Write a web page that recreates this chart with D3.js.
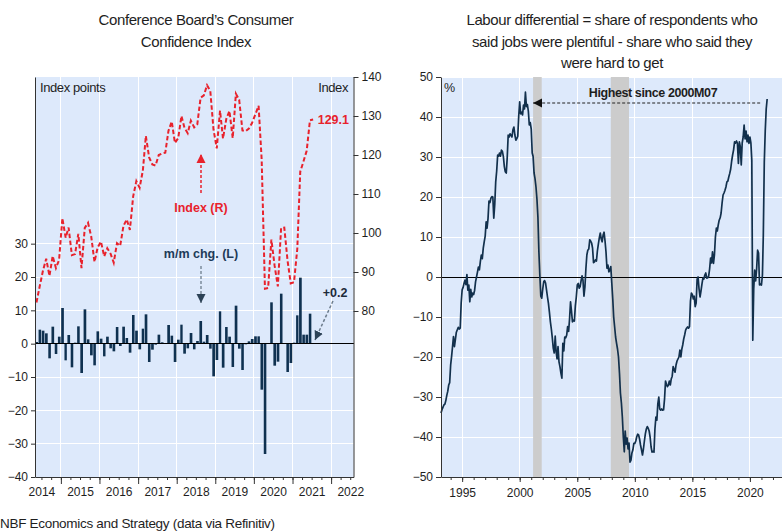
<!DOCTYPE html>
<html>
<head>
<meta charset="utf-8">
<script src="https://cdn.jsdelivr.net/npm/d3@7"></script>
<style>
  body { margin: 0; background: #fff; }
  svg text { font-family: "Liberation Sans", Arial, sans-serif; fill: #1e1e1e; }
  .axis path, .axis line { stroke: #333; }
  .axis text { font-size: 12px; }
  .crisp { shape-rendering: crispEdges; }
</style>
</head>
<body>
<div id="chart"></div>
<script>
// ---- left panel: Conference Board consumer confidence, monthly from 2014M05
var ccStart = [2014, 4];
var ccIndex = [
  82.2, 86.4, 90.3, 93.4, 89.0, 94.1, 91.0, 93.1,                          // 2014 May-Dec
  103.8, 98.8, 101.4, 94.3, 94.6, 99.8, 91.0, 101.3, 102.6, 99.1, 92.6, 96.3,  // 2015
  97.8, 94.0, 96.1, 94.7, 92.4, 97.4, 96.7, 101.8, 103.5, 100.8, 109.4, 113.3, // 2016
  111.6, 116.1, 124.9, 119.4, 117.6, 117.3, 120.0, 120.4, 120.6, 126.2, 128.6, 123.1, // 2017
  124.3, 130.0, 127.0, 125.6, 128.8, 127.1, 127.9, 134.7, 135.3, 137.9, 136.4, 126.6, // 2018
  121.7, 131.4, 124.2, 129.2, 131.3, 124.3, 135.7, 134.2, 126.3, 126.1, 126.8, 128.2, // 2019
  130.4, 132.6, 118.8, 85.7, 85.9, 98.3, 91.7, 86.3, 101.3, 101.4, 92.9, 87.1,  // 2020
  87.4, 95.9, 115.7, 118.4, 121.1, 128.9, 129.1                                // 2021 Jan-Jul
];
var ccChange = [
  0.5, 4.2, 3.9, 3.1, -4.4, 5.1, -3.1, 2.1,
  10.7, -5.0, 2.6, -7.1, 0.3, 5.2, -8.8, 10.3, 1.3, -3.5, -6.5, 3.7,
  1.5, -3.8, 2.1, -1.4, -2.3, 5.0, -0.7, 5.1, 1.7, -2.7, 8.6, 3.9,
  -1.7, 4.5, 8.8, -5.5, -1.8, -0.3, 2.7, 0.4, 0.2, 5.6, 2.4, -5.5,
  1.2, 5.7, -3.0, -1.4, 3.2, -1.7, 0.8, 6.8, 0.6, 2.6, -1.5, -9.8,
  -4.9, 9.7, -7.2, 5.0, 2.1, -7.0, 11.4, -1.5, -7.9, -0.2, 0.7, 1.4,
  2.2, 2.2, -13.8, -33.1, 0.2, 12.4, -6.6, -5.4, 15.0, 0.1, -8.5, -5.8,
  0.3, 8.5, 19.8, 2.7, 2.7, 9.0, 0.2
];
var ccLeftTicks = [-40, -30, -20, -10, 0, 10, 20, 30];
var ccRightTicks = [80, 90, 100, 110, 120, 130, 140];
var ccYears = [2014, 2015, 2016, 2017, 2018, 2019, 2020, 2021, 2022];

// ---- right panel: labour differential (%), monthly from 1993M03
var ldStart = [1993, 2];
var ldValues = [
  -34.0, -33.2, -32.6, -32.0, -31.8, -30.9, -29.6, -28.6, -27.0, -26.4,          // 1993 Mar-Dec
  -22.0, -19.8, -17.5, -14.9, -17.4, -15.6, -13.8, -13.2, -12.6, -13.0, -12.8, -6.5, // 1994
  -3.2, -2.6, -1.6, -0.8, -1.9, 0.6, -3.3, -2.0, -6.2, -3.1, -5.0, -4.0,         // 1995
  -4.4, -3.3, -1.2, 0.0, 1.2, 2.5, 1.8, 3.9, 5.5, 4.6, 7.2, 8.8,                 // 1996
  10.2, 13.8, 12.2, 14.6, 19.0, 18.6, 19.7, 20.1, 20.0, 14.7, 18.2, 23.8,        // 1997
  26.5, 30.5, 30.2, 31.0, 30.2, 31.7, 31.4, 30.1, 27.6, 26.3, 26.0, 29.8,        // 1998
  35.5, 35.0, 35.8, 35.4, 35.0, 36.8, 37.5, 35.5, 34.2, 34.6, 35.2, 40.2,        // 1999
  43.8, 40.8, 41.2, 40.5, 43.0, 42.0, 46.2, 42.6, 43.1, 41.5, 38.0, 38.6,        // 2000
  37.0, 31.0, 30.2, 26.0, 24.6, 22.5, 19.5, 15.0, 6.3, 0.5, -4.8, -5.3,          // 2001
  -3.0, -1.2, -0.9, -1.5, -3.2, -5.0, -6.6, -8.8, -11.2, -13.0, -15.2, -17.8,    // 2002
  -19.0, -14.8, -18.6, -20.5, -17.4, -21.2, -22.4, -24.0, -25.3, -16.6, -18.5, -15.0, // 2003
  -15.2, -14.5, -12.4, -13.6, -10.5, -6.2, -8.5, -11.2, -10.8, -11.0, -7.2, -5.0, // 2004
  -2.0, -1.6, -2.8, -2.4, -1.0, 0.3, -0.8, -4.8, -2.5, 2.0, 5.5, 6.7,            // 2005
  7.0, 9.3, 9.0, 8.5, 7.2, 3.6, 3.8, 4.3, 4.0, 6.5, 8.2, 9.8,                    // 2006
  11.0, 9.5, 8.8, 10.5, 11.2, 9.0, 6.3, 2.2, 3.0, 1.3, 1.8, 2.6,                 // 2007
  -1.5, -5.5, -10.0, -12.5, -15.0, -16.6, -18.0, -20.0, -24.0, -29.0, -31.5, -35.0, // 2008
  -40.0, -43.7, -38.5, -41.8, -40.3, -43.0, -41.5, -46.3, -45.8, -44.0, -43.2, -41.6, // 2009
  -41.6, -41.0, -40.0, -39.3, -39.5, -40.5, -42.0, -43.2, -44.5, -43.0, -41.0, -39.2, // 2010
  -38.0, -37.4, -37.8, -38.5, -40.0, -42.5, -43.8, -43.6, -43.8, -38.0, -35.0, -35.8, // 2011
  -31.7, -30.0, -33.0, -33.3, -33.0, -33.3, -33.2, -30.5, -26.0, -26.8, -27.4, -27.0, // 2012
  -26.0, -27.0, -25.5, -24.8, -22.4, -23.2, -23.8, -22.0, -21.0, -20.5, -20.0, -18.3, // 2013
  -20.0, -18.0, -17.0, -15.5, -14.5, -13.3, -12.8, -12.5, -12.8, -12.4, -6.0, -4.0,   // 2014
  -4.4, -5.5, -4.8, -7.4, -6.5, -0.5, 0.0, -3.0, -5.0, -3.5, -1.8, -0.3,        // 2015
  -0.5, 0.5, 1.0, -0.3, -0.2, 0.2, 2.0, 4.7, 3.5, 6.3, 3.4, 5.5,                // 2016
  10.0, 12.2, 11.5, 13.0, 14.2, 14.8, 16.0, 18.5, 20.5, 21.0, 21.7, 22.5,       // 2017
  23.8, 24.0, 25.0, 25.9, 27.0, 29.0, 30.5, 31.8, 33.8, 33.5, 34.0, 33.4,       // 2018
  28.4, 33.8, 32.6, 28.0, 33.5, 35.0, 38.0, 34.5, 36.5, 33.8, 35.5, 33.4,       // 2019
  35.0, 33.5, 29.2, -15.8, -3.0, 1.7, -1.0, 2.0, 6.7, 6.0, -2.0, -1.8,          // 2020
  -2.0, 0.5, 10.5, 28.7, 36.5, 42.0, 44.5                                       // 2021 Jan-Jul
];
var ldTicks = [-50, -40, -30, -20, -10, 0, 10, 20, 30, 40, 50];
var ldYears = [1995, 2000, 2005, 2010, 2015, 2020];
var recessions = [[new Date(2001, 2, 1), new Date(2001, 10, 30)], [new Date(2007, 11, 1), new Date(2009, 5, 30)]];

var W = 782, H = 531;
var bg = "#dde9fb", red = "#e8222c", navy = "#12304c";

var svg = d3.select("#chart").append("svg").attr("width", W).attr("height", H);

var defs = svg.append("defs");
function marker(id, color) {
  defs.append("marker").attr("id", id).attr("viewBox", "0 0 10 10")
    .attr("refX", 10).attr("refY", 5).attr("markerUnits", "userSpaceOnUse")
    .attr("markerWidth", 9).attr("markerHeight", 11).attr("orient", "auto")
    .append("path").attr("d", "M0,0L10,5L0,10Z").attr("fill", color);
}
marker("arRed", red);
marker("arGrey", "#2c4256");
marker("arBlack", "#111");

// ================= LEFT PANEL =================
var L = { left: 35, right: 353.5, top: 77, bottom: 477 };
var ccDates = ccIndex.map(function(d, i) { return new Date(ccStart[0], ccStart[1] + i, 15); });

var x1 = d3.scaleTime().domain([new Date(2014, 4, 1), new Date(2022, 7, 1)]).range([L.left, L.right]);
var yL = d3.scaleLinear().domain([-40, 80]).range([L.bottom, L.top]);
var yR = d3.scaleLinear().domain([37.44, 140]).range([L.bottom, L.top]);

var g1 = svg.append("g");
g1.append("rect").attr("x", L.left).attr("y", L.top).attr("width", L.right - L.left).attr("height", L.bottom - L.top).attr("fill", bg);

g1.append("g").attr("class", "crisp").selectAll("line").data(ccLeftTicks).join("line")
  .attr("x1", L.left).attr("x2", L.right)
  .attr("y1", function(d) { return yL(d); }).attr("y2", function(d) { return yL(d); })
  .attr("stroke", "#fff").attr("stroke-width", 1);
g1.append("g").attr("class", "crisp").selectAll("line").data(ccYears.slice(1)).join("line")
  .attr("x1", function(d) { return x1(new Date(d, 0, 1)); }).attr("x2", function(d) { return x1(new Date(d, 0, 1)); })
  .attr("y1", L.top).attr("y2", L.bottom)
  .attr("stroke", "#fff").attr("stroke-width", 1);

// bars
g1.append("g").selectAll("rect").data(ccChange).join("rect")
  .attr("x", function(d, i) { return x1(new Date(ccStart[0], ccStart[1] + i, 1)) + 0.3; })
  .attr("width", function(d, i) { return x1(new Date(ccStart[0], ccStart[1] + i + 1, 1)) - x1(new Date(ccStart[0], ccStart[1] + i, 1)) - 0.6; })
  .attr("y", function(d) { return yL(Math.max(0, d)); })
  .attr("height", function(d) { return Math.abs(yL(d) - yL(0)); })
  .attr("fill", "#0f3150");

g1.append("line").attr("class", "crisp").attr("x1", L.left).attr("x2", L.right).attr("y1", yL(0)).attr("y2", yL(0))
  .attr("stroke", "#000").attr("stroke-width", 1);

// index line
g1.append("path").datum(ccIndex)
  .attr("d", d3.line().x(function(d, i) { return x1(ccDates[i]); }).y(function(d) { return yR(d); }))
  .attr("fill", "none").attr("stroke", red).attr("stroke-width", 2)
  .attr("stroke-dasharray", "4.5,2.5");

// axes
g1.append("g").attr("class", "axis").attr("transform", "translate(" + L.left + ",0)")
  .call(d3.axisLeft(yL).tickValues(ccLeftTicks).tickSize(4).tickSizeOuter(0).tickPadding(3));
g1.append("g").attr("class", "axis").attr("transform", "translate(" + L.right + ",0)")
  .call(d3.axisRight(yR).tickValues(ccRightTicks).tickSize(5).tickSizeOuter(0).tickPadding(3));

var qTicks = d3.timeMonth.every(3).range(new Date(2014, 6, 1), new Date(2022, 7, 2));
g1.append("g").attr("class", "axis").attr("transform", "translate(0," + L.bottom + ")")
  .call(d3.axisBottom(x1).tickValues(qTicks).tickSize(3).tickSizeOuter(0).tickFormat(""));
g1.append("g").attr("class", "axis").attr("transform", "translate(0," + L.bottom + ")")
  .call(d3.axisBottom(x1).tickValues(ccYears.slice(1).map(function(y) { return new Date(y, 0, 1); })).tickSize(7).tickSizeOuter(0).tickFormat(""))
  .select(".domain").remove();
g1.append("g").attr("class", "axis").attr("transform", "translate(0," + L.bottom + ")")
  .call(d3.axisBottom(x1).tickValues(ccYears.map(function(y) { return new Date(y, 6, 1); })).tickSize(0).tickPadding(10).tickFormat(d3.timeFormat("%Y")))
  .call(function(a) { a.select(".domain").remove(); });

// labels
g1.append("text").attr("x", 40).attr("y", 92).attr("font-size", 13).attr("letter-spacing", -0.4).text("Index points");
g1.append("text").attr("x", 348).attr("y", 92).attr("font-size", 13).attr("text-anchor", "end").attr("letter-spacing", -0.4).text("Index");
g1.append("text").attr("x", 349).attr("y", 124).attr("font-size", 12.5).attr("font-weight", "bold").attr("text-anchor", "end")
  .style("fill", red).text(ccIndex[ccIndex.length - 1].toFixed(1));
g1.append("text").attr("x", 201).attr("y", 212).attr("font-size", 12.5).attr("font-weight", "bold").attr("text-anchor", "middle")
  .style("fill", red).text("Index (R)");
g1.append("line").attr("x1", 201).attr("x2", 201).attr("y1", 193).attr("y2", 154)
  .attr("stroke", red).attr("stroke-width", 1.5).attr("stroke-dasharray", "3,2").attr("marker-end", "url(#arRed)");
g1.append("text").attr("x", 201).attr("y", 258).attr("font-size", 12.5).attr("font-weight", "bold").attr("text-anchor", "middle")
  .style("fill", "#1d3b58").text("m/m chg. (L)");
g1.append("line").attr("x1", 201).attr("x2", 201).attr("y1", 266).attr("y2", 303)
  .attr("stroke", "#7c8c9c").attr("stroke-width", 1.5).attr("stroke-dasharray", "3,2").attr("marker-end", "url(#arGrey)");
g1.append("text").attr("x", 335).attr("y", 297).attr("font-size", 12.5).attr("font-weight", "bold").attr("text-anchor", "middle")
  .style("fill", "#1d2b3a").text("+" + ccChange[ccChange.length - 1].toFixed(1));
g1.append("line").attr("x1", 333).attr("x2", 315).attr("y1", 301).attr("y2", 340)
  .attr("stroke", "#6c7c8c").attr("stroke-width", 1.5).attr("stroke-dasharray", "3,2").attr("marker-end", "url(#arGrey)");

g1.append("text").attr("x", 196).attr("y", 25).attr("font-size", 15).attr("text-anchor", "middle").attr("letter-spacing", -0.4).text("Conference Board\u2019s Consumer");
g1.append("text").attr("x", 196).attr("y", 47).attr("font-size", 15).attr("text-anchor", "middle").attr("letter-spacing", -0.4).text("Confidence Index");

// ================= RIGHT PANEL =================
var R = { left: 441, right: 782, top: 77, bottom: 477 };
var ldDates = ldValues.map(function(d, i) { return new Date(ldStart[0], ldStart[1] + i, 1); });
var x2 = d3.scaleTime().domain([new Date(1993, 2, 1), new Date(2022, 9, 15)]).range([R.left, R.right]);
var y2 = d3.scaleLinear().domain([-50, 50]).range([R.bottom, R.top]);

var g2 = svg.append("g");
g2.append("rect").attr("x", R.left).attr("y", R.top).attr("width", R.right - R.left).attr("height", R.bottom - R.top).attr("fill", bg);
g2.append("g").attr("class", "crisp").selectAll("line").data(ldTicks).join("line")
  .attr("x1", R.left).attr("x2", R.right)
  .attr("y1", function(d) { return y2(d); }).attr("y2", function(d) { return y2(d); })
  .attr("stroke", "#fff").attr("stroke-width", 1);
g2.append("g").attr("class", "crisp").selectAll("line").data(ldYears).join("line")
  .attr("x1", function(d) { return x2(new Date(d, 0, 1)); }).attr("x2", function(d) { return x2(new Date(d, 0, 1)); })
  .attr("y1", R.top).attr("y2", R.bottom)
  .attr("stroke", "#fff").attr("stroke-width", 1);
g2.append("g").selectAll("rect").data(recessions).join("rect")
  .attr("x", function(d) { return x2(d[0]); }).attr("width", function(d) { return x2(d[1]) - x2(d[0]); })
  .attr("y", R.top).attr("height", R.bottom - R.top).attr("fill", "#cccccc");
g2.append("line").attr("class", "crisp").attr("x1", R.left).attr("x2", R.right).attr("y1", y2(0) + 0.5).attr("y2", y2(0) + 0.5)
  .attr("stroke", "#000").attr("stroke-width", 1);

g2.append("path").datum(ldValues)
  .attr("d", d3.line().x(function(d, i) { return x2(ldDates[i]); }).y(function(d) { return y2(d); }))
  .attr("fill", "none").attr("stroke", navy).attr("stroke-width", 1.7).attr("stroke-linejoin", "round");

g2.append("g").attr("class", "axis").attr("transform", "translate(" + R.left + ",0)")
  .call(d3.axisLeft(y2).tickValues(ldTicks).tickSize(5).tickSizeOuter(0).tickPadding(3));
g2.append("g").attr("class", "axis").attr("transform", "translate(0," + R.bottom + ")")
  .call(d3.axisBottom(x2).ticks(d3.timeYear.every(1)).tickSize(3).tickSizeOuter(0).tickFormat(""));
g2.append("g").attr("class", "axis").attr("transform", "translate(0," + R.bottom + ")")
  .call(d3.axisBottom(x2).tickValues(ldYears.map(function(y) { return new Date(y, 0, 1); })).tickSize(5).tickPadding(6).tickFormat(d3.timeFormat("%Y")))
  .call(function(a) { a.select(".domain").remove(); });

g2.append("text").attr("x", 444).attr("y", 92).attr("font-size", 12.5).text("%");
g2.append("line").attr("x1", x2(ldDates[ldDates.length - 1]) - 7).attr("x2", x2(new Date(2001, 2, 1)))
  .attr("y1", 103).attr("y2", 103)
  .attr("stroke", "#222").attr("stroke-width", 1.2).attr("stroke-dasharray", "3,2").attr("marker-end", "url(#arBlack)");
g2.append("text").attr("x", 653).attr("y", 97).attr("font-size", 12.5).attr("font-weight", "bold").attr("text-anchor", "middle")
  .attr("letter-spacing", -0.4).text("Highest since 2000M07");

var rt = ["Labour differential = share of respondents who", "said jobs were plentiful - share who said they", "were hard to get"];
g2.selectAll("text.title").data(rt).join("text").attr("class", "title")
  .attr("x", 612).attr("y", function(d, i) { return 25 + i * 21.5; })
  .attr("font-size", 15).attr("text-anchor", "middle").attr("letter-spacing", -0.4).text(function(d) { return d; });

svg.append("text").attr("x", 0).attr("y", 528).attr("font-size", 13.5).attr("letter-spacing", -0.3)
  .text("NBF Economics and Strategy (data via Refinitiv)");
</script>
</body>
</html>
